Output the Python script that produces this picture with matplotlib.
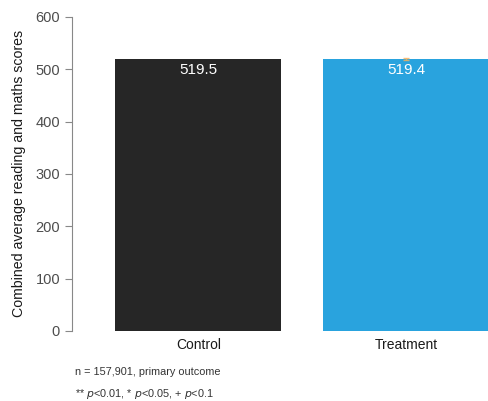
"""Bar chart of combined reading and maths scores by trial arm."""
import matplotlib.pyplot as plt

plt.rcParams["font.family"] = ["Liberation Sans", "DejaVu Sans"]

groups = ["Control", "Treatment"]
scores = [519.5, 519.4]
ci_half = [0.0, 1.5]
bar_colors = ["#262626", "#29a3de"]
y_ticks = [0, 100, 200, 300, 400, 500, 600]

fig = plt.figure(figsize=(4.89, 4.01), dpi=100, facecolor="w")
ax = fig.add_axes([0.147, 0.1746, 0.853, 0.7834])

positions = list(range(len(groups)))
ax.bar(positions, scores, width=0.8, color=bar_colors)
ax.errorbar(positions[1], scores[1], yerr=ci_half[1], color="#f5b05a",
            capsize=2, lw=1, alpha=0.8)
for x, v in zip(positions, scores):
    ax.text(x, v - 7, f"{v:.1f}", ha="center", va="top", color="white",
            fontsize=11)

ax.set_xlim(-0.61, 1.4)
ax.set_ylim(0, 600)
ax.set_yticks(y_ticks)
ax.set_xticks(positions)
ax.set_xticklabels(groups, fontsize=10, color="#1a1a1a")
ax.tick_params(axis="y", labelsize=10.5, labelcolor="#4d4d4d", color="#888888",
               length=5, width=0.8)
ax.tick_params(axis="x", length=0, pad=5)
for side in ["top", "right", "bottom"]:
    ax.spines[side].set_visible(False)
ax.spines["left"].set_color("#888888")
ax.spines["left"].set_linewidth(0.8)
ax.set_ylabel("Combined average reading and maths scores", fontsize=10.2,
              color="#1a1a1a", labelpad=7)

fig.text(0.153, 0.072, "n = 157,901, primary outcome", fontsize=7.8,
         color="#333333", va="center")
fig.text(0.153, 0.018, r"** $p$<0.01, * $p$<0.05, + $p$<0.1", fontsize=7.8,
         color="#333333", va="center")

plt.savefig("out.png", dpi=100)
